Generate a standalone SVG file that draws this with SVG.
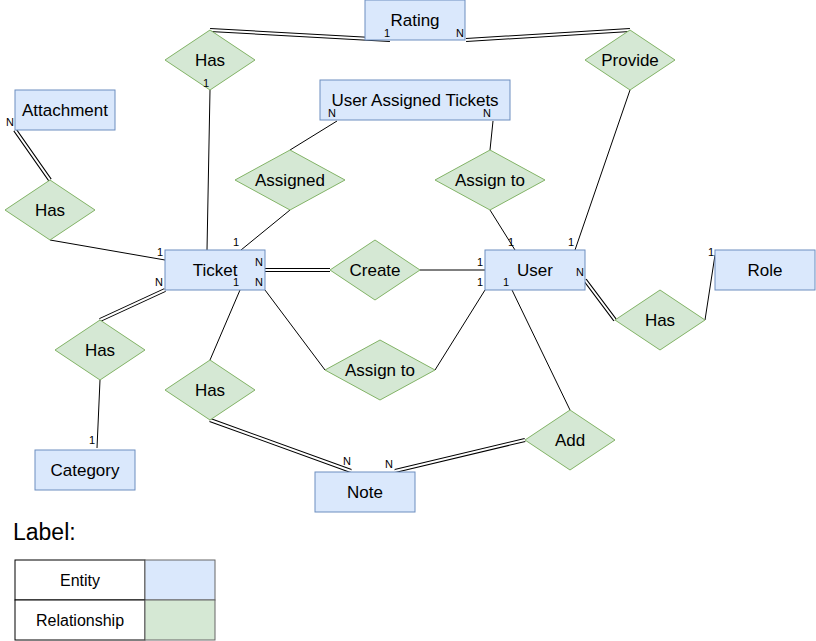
<svg xmlns="http://www.w3.org/2000/svg" width="816" height="641" viewBox="0 0 816 641">
<style>
.ent{fill:#dae8fc;stroke:#6c8ebf;stroke-width:1}
.rel{fill:#d5e8d4;stroke:#82b366;stroke-width:1}
.t{font-family:"Liberation Sans",Arial,sans-serif;font-size:17px;fill:#000;text-anchor:middle}
.s{font-family:"Liberation Sans",Arial,sans-serif;font-size:11px;fill:#000;text-anchor:middle}
.ln{fill:none;stroke:#000;stroke-width:1}
.d1{fill:none;stroke:#000;stroke-width:4}
.d2{fill:none;stroke:#fff;stroke-width:2}
</style>
<rect width="816" height="641" fill="#fff"/>
<g id="connectors">
  <path class="ln" d="M210 90L207 250"/>
  <path class="ln" d="M50 240L165 260"/>
  <path class="ln" d="M337 121L290 150M290 210L241 250"/>
  <path class="ln" d="M493 121L490 150M490 210L515 250"/>
  <path class="ln" d="M630 90L575 250"/>
  <path class="ln" d="M420 270L485 270"/>
  <path class="ln" d="M265 290L325 370M435 370L485 290"/>
  <path class="ln" d="M240 290L210 360"/>
  <path class="ln" d="M100 380L97 448"/>
  <path class="ln" d="M512 290L570 410"/>
  <path class="ln" d="M705 320L715 255"/>
  <g id="double-lines">
    <path class="d1" d="M210 30L390 40M630 30L466 40M15 130L50 180M265 270L330 270M165 290L100 320M210 420L351 471M525 440L395 471M585 280L615 320"/>
    <path class="d2" d="M210 30L390 40M630 30L466 40M15 130L50 180M265 270L330 270M165 290L100 320M210 420L351 471M525 440L395 471M585 280L615 320"/>
  </g>
</g>
<g id="rating"><rect class="ent" x="365" y="0" width="100" height="40"/><text class="t" x="415" y="26">Rating</text></g>
<g id="uat"><rect class="ent" x="320" y="80" width="190" height="40"/><text class="t" x="415" y="106">User Assigned Tickets</text></g>
<g id="attachment"><rect class="ent" x="15" y="90" width="100" height="40"/><text class="t" x="65" y="116">Attachment</text></g>
<g id="ticket"><rect class="ent" x="165" y="250" width="100" height="40"/><text class="t" x="215" y="276">Ticket</text></g>
<g id="user"><rect class="ent" x="485" y="250" width="100" height="40"/><text class="t" x="535" y="276">User</text></g>
<g id="role"><rect class="ent" x="715" y="250" width="100" height="40"/><text class="t" x="765" y="276">Role</text></g>
<g id="category"><rect class="ent" x="35" y="450" width="100" height="40"/><text class="t" x="85" y="476">Category</text></g>
<g id="note"><rect class="ent" x="315" y="472" width="100" height="40"/><text class="t" x="365" y="498">Note</text></g>
<g id="has-rating"><path class="rel" d="M210 30L255 60L210 90L165 60Z"/><text class="t" x="210" y="66">Has</text></g>
<g id="provide"><path class="rel" d="M630 30L675 60L630 90L585 60Z"/><text class="t" x="630" y="66">Provide</text></g>
<g id="has-attachment"><path class="rel" d="M50 180L95 210L50 240L5 210Z"/><text class="t" x="50" y="216">Has</text></g>
<g id="assigned"><path class="rel" d="M290 150L345 180L290 210L235 180Z"/><text class="t" x="290" y="186">Assigned</text></g>
<g id="assign-to-uat"><path class="rel" d="M490 150L545 180L490 210L435 180Z"/><text class="t" x="490" y="186">Assign to</text></g>
<g id="create"><path class="rel" d="M375 240L420 270L375 300L330 270Z"/><text class="t" x="375" y="276">Create</text></g>
<g id="has-role"><path class="rel" d="M660 290L705 320L660 350L615 320Z"/><text class="t" x="660" y="326">Has</text></g>
<g id="has-category"><path class="rel" d="M100 320L145 350L100 380L55 350Z"/><text class="t" x="100" y="356">Has</text></g>
<g id="has-note"><path class="rel" d="M210 360L255 390L210 420L165 390Z"/><text class="t" x="210" y="396">Has</text></g>
<g id="assign-to"><path class="rel" d="M380 340L435 370L380 400L325 370Z"/><text class="t" x="380" y="376">Assign to</text></g>
<g id="add"><path class="rel" d="M570 410L615 440L570 470L525 440Z"/><text class="t" x="570" y="446">Add</text></g>
<g id="cardinalities">
  <text class="s" x="387" y="37">1</text>
  <text class="s" x="460" y="37">N</text>
  <text class="s" x="206" y="87">1</text>
  <text class="s" x="10" y="126">N</text>
  <text class="s" x="332" y="117">N</text>
  <text class="s" x="487" y="117">N</text>
  <text class="s" x="160" y="256">1</text>
  <text class="s" x="236" y="246">1</text>
  <text class="s" x="259" y="266">N</text>
  <text class="s" x="259" y="286">N</text>
  <text class="s" x="236" y="286">1</text>
  <text class="s" x="159" y="286">N</text>
  <text class="s" x="480" y="266">1</text>
  <text class="s" x="480" y="286">1</text>
  <text class="s" x="506" y="286">1</text>
  <text class="s" x="511" y="246">1</text>
  <text class="s" x="571" y="246">1</text>
  <text class="s" x="580" y="276">N</text>
  <text class="s" x="711" y="256">1</text>
  <text class="s" x="92" y="444">1</text>
  <text class="s" x="347" y="465">N</text>
  <text class="s" x="389" y="468">N</text>
</g>
<g id="legend">
  <text x="13" y="540" style="font-family:'Liberation Sans',Arial,sans-serif;font-size:23px;fill:#000">Label:</text>
  <rect x="15" y="560" width="130" height="40" fill="#fff" stroke="#000"/>
  <rect x="145" y="560" width="70" height="40" class="ent" style="stroke:#666"/>
  <rect x="15" y="600" width="130" height="40" fill="#fff" stroke="#000"/>
  <rect x="145" y="600" width="70" height="40" class="rel" style="stroke:#666"/>
  <text class="t" x="80" y="586" style="font-size:16px">Entity</text>
  <text class="t" x="80" y="626" style="font-size:16px">Relationship</text>
</g>
</svg>
